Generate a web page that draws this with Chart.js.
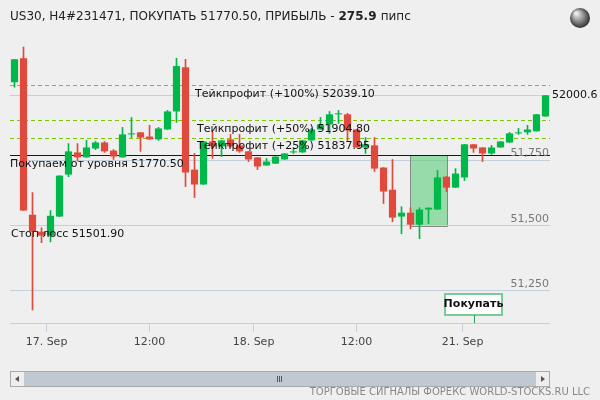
<!DOCTYPE html>
<html><head><meta charset="utf-8">
<script src="https://cdn.jsdelivr.net/npm/chart.js@4"></script>
<style>html,body{margin:0;padding:0;background:#efefef}canvas{display:block}</style>
</head><body><div style="width:600px;height:400px"><canvas id="c" width="600" height="400"></canvas></div>
<script>
const opens  = [52050,52142,51542,51477,51462,51535,51696,51781,51762,51796,51819,51788,51762,51850,51858,51842,51831,51869,51938,52108,51715,51658,51823,51804,51831,51808,51785,51762,51731,51738,51754,51781,51781,51827,51869,51888,51927,51927,51869,51800,51808,51723,51638,51535,51550,51504,51562,51562,51688,51646,51685,51812,51800,51777,51800,51819,51854,51858,51862,51919];
const closes = [52138,51558,51477,51462,51538,51692,51785,51762,51800,51819,51785,51765,51850,51854,51838,51831,51873,51938,52112,51704,51658,51823,51804,51827,51804,51785,51754,51727,51746,51765,51777,51785,51827,51869,51888,51927,51931,51865,51800,51812,51719,51631,51531,51550,51504,51562,51569,51685,51646,51700,51812,51796,51777,51800,51823,51854,51858,51869,51927,52000];
const highs  = [52138,52185,51627,51492,51558,51692,51815,51815,51827,51823,51823,51792,51877,51915,51858,51885,51877,51942,52142,52138,51777,51823,51858,51827,51850,51850,51785,51762,51758,51765,51777,51800,51827,51873,51915,51938,51942,51931,51869,51838,51838,51723,51754,51573,51569,51569,51569,51712,51688,51719,51812,51812,51800,51808,51823,51858,51873,51885,51927,52000];
const lows   = [52031,51558,51177,51435,51438,51535,51688,51750,51762,51792,51781,51754,51762,51838,51785,51831,51827,51869,51896,51650,51608,51658,51758,51765,51800,51781,51746,51715,51731,51738,51754,51777,51781,51827,51869,51854,51892,51827,51800,51777,51708,51585,51515,51469,51488,51450,51508,51562,51631,51646,51673,51781,51746,51773,51800,51819,51850,51850,51862,51919];
const yTicks = [51250,51500,51750,52000];
const xTickPos = [3.45,14.95,26.45,37.95,49.75];
const xTickLabels = ['17. Sep','12:00','18. Sep','12:00','21. Sep'];
const levels = [
  {v:52039.10, text:'Тейкпрофит (+100%) 52039.10', color:'#7cc800', dash:[4,3], tx:195},
  {v:51904.80, text:'Тейкпрофит (+50%) 51904.80', color:'#7cc800', dash:[4,3], tx:197},
  {v:51837.95, text:'Тейкпрофит (+25%) 51837.95', color:'#7cc800', dash:[4,3], tx:197},
  {v:51770.50, text:'Покупаем от уровня 51770.50', color:'#0000dd', dash:[], tx:10},
  {v:51501.90, text:'Стоп лосс 51501.90', color:'#c5d0dc', dash:[], tx:11}
];
const zone = {x0:43.9, x1:48.05, y0:51770.5, y1:51500};
const lastPrice = '52000.6';
const labels = opens.map((_,i)=>i);
const up = opens.map((o,i)=>closes[i]>=o);
const RED='#e04a3d', GREEN='#00b84a';
function xpx(ch,v){const x=ch.scales.x;const p0=x.getPixelForValue(0),p1=x.getPixelForValue(1);return p0+v*(p1-p0);}

const overlay = {
  id:'overlay',
  beforeDatasetsDraw(ch){
    const c=ch.ctx, y=ch.scales.y, a=ch.chartArea;
    c.save();
    c.fillStyle='rgba(90,205,120,0.6)'; c.strokeStyle='#888'; c.lineWidth=1;
    const x0=Math.round(xpx(ch,zone.x0)), x1=Math.round(xpx(ch,zone.x1)), y0=Math.round(y.getPixelForValue(zone.y0)), y1=Math.round(y.getPixelForValue(zone.y1));
    c.fillRect(x0,y0,x1-x0,y1-y0); c.strokeRect(x0+.5,y0+.5,x1-x0,y1-y0);
    levels.forEach(l=>{const py=Math.round(y.getPixelForValue(l.v))+.5;c.strokeStyle=l.color;c.setLineDash(l.dash);c.beginPath();c.moveTo(a.left,py);c.lineTo(a.right,py);c.stroke();});
    c.setLineDash([]);
    c.strokeStyle='#c5d0dc'; c.beginPath(); c.moveTo(a.left,a.bottom+.5); c.lineTo(a.right,a.bottom+.5); c.stroke();
    c.font='11px "DejaVu Sans"'; c.fillStyle='#444'; c.textAlign='center'; c.textBaseline='middle';
    xTickPos.forEach((p,i)=>{const px=Math.round(xpx(ch,p))+.5;c.beginPath();c.moveTo(px,a.bottom);c.lineTo(px,a.bottom+9);c.stroke();c.fillText(xTickLabels[i],px,a.bottom+19);});
    c.restore();
  },
  afterDatasetsDraw(ch){
    const c=ch.ctx, y=ch.scales.y, a=ch.chartArea;
    c.save();
    c.font='11px "DejaVu Sans"'; c.fillStyle='#111'; c.textBaseline='middle';
    levels.forEach(l=>{c.fillText(l.text,l.tx,y.getPixelForValue(l.v)+9);});
    c.fillStyle='#777'; c.textAlign='right';
    yTicks.slice(0,3).forEach(v=>c.fillText(v.toLocaleString('en-US'),a.right-1,y.getPixelForValue(v)-7));
    c.fillStyle='#111'; c.textAlign='left';
    c.fillText(lastPrice,a.right+2,y.getPixelForValue(52000));
    c.fillStyle='#fff'; c.strokeStyle='#7cc99a'; c.lineWidth=2;
    c.fillRect(445,294,57,21); c.strokeRect(445,294,57,21);
    c.strokeStyle='#2a9a4a'; c.lineWidth=1; c.beginPath(); c.moveTo(474.5,315); c.lineTo(474.5,323); c.stroke();
    c.fillStyle='#111'; c.font='bold 11px "DejaVu Sans"'; c.textAlign='center'; c.fillText('Покупать',473.5,304.5);
    c.restore();
  },
  afterDraw(ch){
    const c=ch.ctx; c.save();
    c.font='12px "DejaVu Sans"'; c.fillStyle='#222'; c.textBaseline='middle';
    let t1='US30, H4#231471, ПОКУПАТЬ 51770.50, ПРИБЫЛЬ - ';
    c.fillText(t1,10,17); let w=c.measureText(t1).width;
    c.font='bold 12px "DejaVu Sans"'; c.fillText('275.9',10+w,17); w+=c.measureText('275.9 ').width;
    c.font='12px "DejaVu Sans"'; c.fillText('пипс',10+w,17);
    const g=c.createRadialGradient(576,13,1,580,18,11); g.addColorStop(0,'#eee'); g.addColorStop(0.6,'#777'); g.addColorStop(1,'#222');
    c.fillStyle=g; c.beginPath(); c.arc(580,18,10,0,Math.PI*2); c.fill();
    c.fillStyle='#c0c8d2'; c.fillRect(10,371,540,15); c.strokeStyle='#aaa'; c.strokeRect(10.5,371.5,539,15);
    c.fillStyle='#eee'; c.fillRect(11,372,13,14); c.fillRect(536,372,13,14);
    c.fillStyle='#555'; c.beginPath(); c.moveTo(19,376); c.lineTo(15,379); c.lineTo(19,382); c.fill();
    c.beginPath(); c.moveTo(541,376); c.lineTo(545,379); c.lineTo(541,382); c.fill();
    c.fillRect(277,376,1,6); c.fillRect(279,376,1,6); c.fillRect(281,376,1,6);
    c.font='10px "DejaVu Sans"'; c.fillStyle='#888'; c.textAlign='right'; c.fillText('ТОРГОВЫЕ СИГНАЛЫ ФОРЕКС WORLD-STOCKS.RU LLC',590,392);
    c.restore();
  }
};

new Chart(document.getElementById('c'),{
  type:'bar',
  data:{labels,datasets:[
    {data:labels.map(i=>[lows[i],highs[i]]),backgroundColor:up.map(u=>u?GREEN:RED),barThickness:1,grouped:false,order:2},
    {data:labels.map(i=>[opens[i],closes[i]]),backgroundColor:up.map(u=>u?GREEN:RED),barPercentage:0.8,categoryPercentage:1,grouped:false,order:1,minBarLength:1}
  ]},
  options:{
    responsive:false,animation:false,
    layout:{padding:{left:10,right:50,top:40,bottom:77}},
    plugins:{legend:{display:false},tooltip:{enabled:false}},
    scales:{
      x:{display:false,offset:true,grid:{display:false}},
      y:{min:51127,max:52212,
        afterBuildTicks:s=>{s.ticks=yTicks.map(v=>({value:v}));},
        afterFit:s=>{s.width=0;},
        ticks:{display:false},grid:{color:'#c5d0dc',drawTicks:false},border:{display:false}}
    }
  },
  plugins:[overlay]
});
</script></body></html>
